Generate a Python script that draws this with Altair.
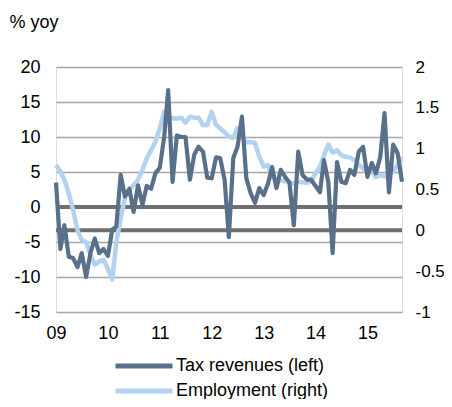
import altair as alt
import pandas as pd

# Monthly data, Jan 2009 - Sep 2015
months = pd.date_range("2009-01-01", periods=81, freq="MS").strftime("%Y-%m-%d").tolist()

tax_revenues = [3.5, -6, -2.6, -7.1, -7.3, -8.6, -6.6, -10, -6.5, -4.5,
                -6.6, -6, -7, -3.2, -2.8, 4.6, 1.5, 2.6, -0.7, 3.1,
                0.3, 3, 2.6, 4.8, 5.6, 10, 16.7, 3.6, 10.2, 10,
                10, 3.9, 7.5, 8.6, 7.9, 4.2, 4.1, 7.1, 7, 3.9,
                -4.3, 7, 8.6, 12.9, 4.1, 2, 0.6, 2.7, 1.7, 3.4,
                5.7, 2.7, 5.3, 4.3, 3.5, -2.6, 7.9, 4.6, 3.9, 3.9,
                3, 2.1, 6.7, 3.5, -6.6, 6.4, 3.6, 3.4, 5.3, 4.6,
                7.9, 8.6, 4.3, 6.3, 4.8, 7.1, 13.4, 2.1, 8.9, 7.7, 3.6]

employment = [0.80, 0.72, 0.62, 0.45, 0.25, 0.0, -0.12, -0.15, -0.30, -0.42,
              -0.38, -0.36, -0.47, -0.60, -0.15, 0.15, 0.40, 0.50, 0.55, 0.62,
              0.74, 0.88, 0.98, 1.08, 1.25, 1.45, 1.41, 1.37, 1.37, 1.38,
              1.32, 1.39, 1.38, 1.38, 1.29, 1.29, 1.45, 1.29, 1.25, 1.20,
              1.15, 1.13, 1.25, 1.15, 1.08, 1.08, 1.07, 0.90, 0.78, 0.80,
              0.65, 0.61, 0.61, 0.60, 0.59, 0.57, 0.59, 0.59, 0.58, 0.60,
              0.70, 0.78, 0.92, 1.05, 0.95, 0.98, 0.92, 0.90, 0.89, 0.86,
              0.80, 0.76, 0.70, 0.73, 0.65, 0.68, 0.66, 0.68, 0.72, 0.80, 0.90]

series_names = ["Tax revenues (left)", "Employment (right)"]
series_colors = ["#587089", "#b3d1f0"]
left_ticks = [-15, -10, -5, 0, 5, 10, 15, 20]
right_ticks = [-1, -0.5, 0, 0.5, 1, 1.5, 2]
year_ticks = [2009, 2010, 2011, 2012, 2013, 2014, 2015]

df = pd.DataFrame({"date": months, "tax": tax_revenues, "emp": employment})
zero_df = pd.DataFrame({"zero": [0]})

FONT = "Liberation Sans"

x_enc = alt.X(
    "date:T",
    scale=alt.Scale(
        type="utc",
        domain=[alt.DateTime(year=2009, month=1, date=1, utc=True),
                alt.DateTime(year=2015, month=9, date=1, utc=True)],
    ),
    axis=alt.Axis(
        values=[alt.DateTime(year=y, month=1, date=1, utc=True) for y in year_ticks],
        labelExpr="utcFormat(datum.value, '%y')",
        title=None, grid=False, domain=False, ticks=False, labelFlush=False,
        labelFontSize=18, labelColor="#000000", labelPadding=12, labelFont=FONT,
    ),
)

left_scale = alt.Scale(domain=[-15, 20], nice=False, zero=False)
right_scale = alt.Scale(domain=[-1, 2], nice=False, zero=False)

color_enc = alt.Color(
    "series:N",
    scale=alt.Scale(domain=series_names, range=series_colors),
    legend=alt.Legend(
        title=None, orient="none", legendX=79, legendY=290, direction="vertical",
        symbolType="M-5,0L5,0", symbolSize=130, symbolStrokeWidth=5,
        labelFontSize=18, labelFont=FONT, labelColor="#000000",
        labelOffset=23, rowPadding=5, padding=0,
    ),
)

# Layer A: zero line for left scale, carries the left axis with gridlines
left_zero = alt.Chart(zero_df).mark_rule(color="#6f6f6f", strokeWidth=4).encode(
    y=alt.Y(
        "zero:Q", scale=left_scale,
        axis=alt.Axis(
            orient="left", values=left_ticks, labelExpr="datum.value + ''",
            grid=True, gridColor="#a6a6a6", gridWidth=1.3,
            domain=False, ticks=False, labelPadding=16,
            labelFontSize=18, labelFont=FONT, labelColor="#000000",
            title="% yoy", titleAngle=0, titleAlign="left", titleBaseline="alphabetic",
            titleX=-47, titleY=-40, titleFontSize=18, titleFontWeight="normal",
            titleFont=FONT, titleColor="#000000",
        ),
    )
)

# Layer B: employment (right scale)
right_zero = alt.Chart(zero_df).mark_rule(color="#6f6f6f", strokeWidth=4).encode(
    y=alt.Y(
        "zero:Q", scale=right_scale,
        axis=alt.Axis(
            orient="right", values=right_ticks, labelExpr="datum.value + ''",
            grid=False, domain=False, ticks=False, labelPadding=13,
            labelFontSize=17, labelFont=FONT, labelColor="#000000", title=None,
        ),
    )
)
emp_line = alt.Chart(df).transform_calculate(series="'Employment (right)'").mark_line(
    strokeWidth=4.5, strokeJoin="round"
).encode(
    x=x_enc,
    y=alt.Y("emp:Q", scale=right_scale),
    color=color_enc,
)
right_group = alt.layer(right_zero, emp_line)

# Layer C: tax revenues (left scale)
tax_line = alt.Chart(df).transform_calculate(series="'Tax revenues (left)'").mark_line(
    strokeWidth=4.2, strokeJoin="round"
).encode(
    x=x_enc,
    y=alt.Y("tax:Q", scale=left_scale, axis=None),
    color=color_enc,
)

chart = alt.layer(left_zero, right_group, tax_line).resolve_scale(
    y="independent"
).properties(
    width=346, height=245,
    autosize=alt.AutoSizeParams(type="none"),
    padding={"left": 48, "top": 59, "right": 42, "bottom": 87},
).configure_view(stroke=None).configure(font=FONT)

chart.save("out.html", embed_options={"renderer": "svg", "actions": False})
